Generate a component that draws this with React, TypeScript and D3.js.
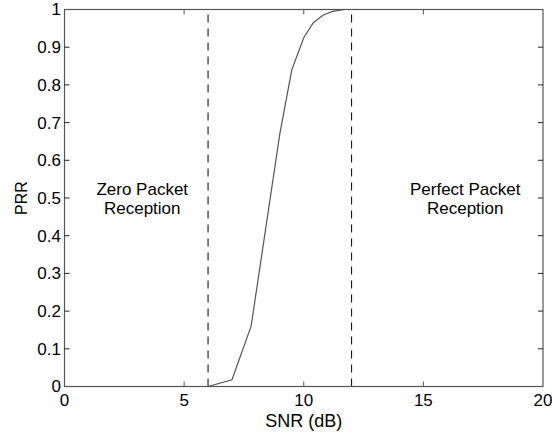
import { useRef, useEffect } from 'react';
import * as d3 from 'd3';

// PRR curve
const snrValues = [6, 7, 7.8, 9, 9.5, 10, 10.4, 10.8, 11.2, 11.7, 12];
const prrValues = [0, 0.018, 0.16, 0.67, 0.84, 0.925, 0.965, 0.985, 0.995, 1, 1];

const xTicks = [0, 5, 10, 15, 20];
const yTicks = [0, 0.1, 0.2, 0.3, 0.4, 0.5, 0.6, 0.7, 0.8, 0.9, 1];
const thresholds = [6, 12];

const regionLabels = [
  { x: 3.25, lines: ['Zero Packet', 'Reception'] },
  { x: 16.75, lines: ['Perfect Packet', 'Reception'] },
];

export default function App() {
  const ref = useRef<SVGSVGElement>(null);

  useEffect(() => {
    const svgEl = ref.current;
    if (!svgEl) return;
    const svg = d3.select(svgEl);
    svg.selectAll('*').remove();

    const width = 552;
    const height = 434;
    const margin = { top: 9.5, right: 9, bottom: 47.5, left: 64.5 };
    const font = "'Liberation Sans', Arial, sans-serif";
    const axisColor = '#555';

    const x = d3.scaleLinear().domain([0, 20]).range([margin.left, width - margin.right]);
    const y = d3.scaleLinear().domain([0, 1]).range([height - margin.bottom, margin.top]);

    const [x0, x1] = x.range();
    const [y0, y1] = y.range();

    // Dashed threshold lines
    svg
      .selectAll('.thr')
      .data(thresholds)
      .enter()
      .append('line')
      .attr('x1', (d) => x(d))
      .attr('x2', (d) => x(d))
      .attr('y1', y0)
      .attr('y2', y1)
      .attr('stroke', '#000')
      .attr('stroke-width', 1)
      .attr('stroke-dasharray', '8 6');

    // Curve
    const pts = snrValues.map((s, i) => [s, prrValues[i]] as [number, number]);
    const line = d3
      .line<[number, number]>()
      .x((d) => x(d[0]))
      .y((d) => y(d[1]));
    svg
      .append('path')
      .attr('d', line(pts))
      .attr('fill', 'none')
      .attr('stroke', '#555')
      .attr('stroke-width', 1.2);

    // Box
    svg
      .append('rect')
      .attr('x', x0)
      .attr('y', y1)
      .attr('width', x1 - x0)
      .attr('height', y0 - y1)
      .attr('fill', 'none')
      .attr('stroke', axisColor)
      .attr('stroke-width', 1.2);

    const tickLen = 5;
    // x ticks (bottom and top, inward)
    xTicks.forEach((t) => {
      if (t === 0 || t === 20) return;
      svg.append('line').attr('x1', x(t)).attr('x2', x(t)).attr('y1', y0).attr('y2', y0 - tickLen).attr('stroke', axisColor);
      svg.append('line').attr('x1', x(t)).attr('x2', x(t)).attr('y1', y1).attr('y2', y1 + tickLen).attr('stroke', axisColor);
    });
    yTicks.forEach((t) => {
      if (t === 0 || t === 1) return;
      svg.append('line').attr('x1', x0).attr('x2', x0 + tickLen).attr('y1', y(t)).attr('y2', y(t)).attr('stroke', '#222');
      svg.append('line').attr('x1', x1).attr('x2', x1 - tickLen).attr('y1', y(t)).attr('y2', y(t)).attr('stroke', '#222');
    });

    // Tick labels
    svg
      .selectAll('.xt')
      .data(xTicks)
      .enter()
      .append('text')
      .attr('x', (d) => x(d))
      .attr('y', y0 + 19.5)
      .attr('text-anchor', 'middle')
      .attr('font-family', font)
      .attr('font-size', 17)
      .attr('fill', '#000')
      .text((d) => String(d));

    svg
      .selectAll('.yt')
      .data(yTicks)
      .enter()
      .append('text')
      .attr('x', x0 - 3.5)
      .attr('y', (d) => y(d))
      .attr('dy', '0.35em')
      .attr('text-anchor', 'end')
      .attr('font-family', font)
      .attr('font-size', 17)
      .attr('fill', '#000')
      .text((d) => String(d));

    // Axis titles
    svg
      .append('text')
      .attr('x', x(10))
      .attr('y', y0 + 40)
      .attr('text-anchor', 'middle')
      .attr('font-family', font)
      .attr('font-size', 18)
      .attr('fill', '#000')
      .text('SNR (dB)');

    svg
      .append('text')
      .attr('transform', `translate(27,${(y0 + y1) / 2}) rotate(-90)`)
      .attr('text-anchor', 'middle')
      .attr('font-family', font)
      .attr('font-size', 16)
      .attr('fill', '#000')
      .text('PRR');

    // Region annotations
    regionLabels.forEach((r) => {
      r.lines.forEach((l, i) => {
        svg
          .append('text')
          .attr('x', x(r.x))
          .attr('y', 194.5 + i * 19)
          .attr('text-anchor', 'middle')
          .attr('font-family', font)
          .attr('font-size', 17)
          .attr('fill', '#000')
          .text(l);
      });
    });
  }, []);

  return (
    <svg
      ref={ref}
      width={552}
      height={434}
      style={{ position: 'absolute', left: 0, top: 0, background: '#fff' }}
    />
  );
}
